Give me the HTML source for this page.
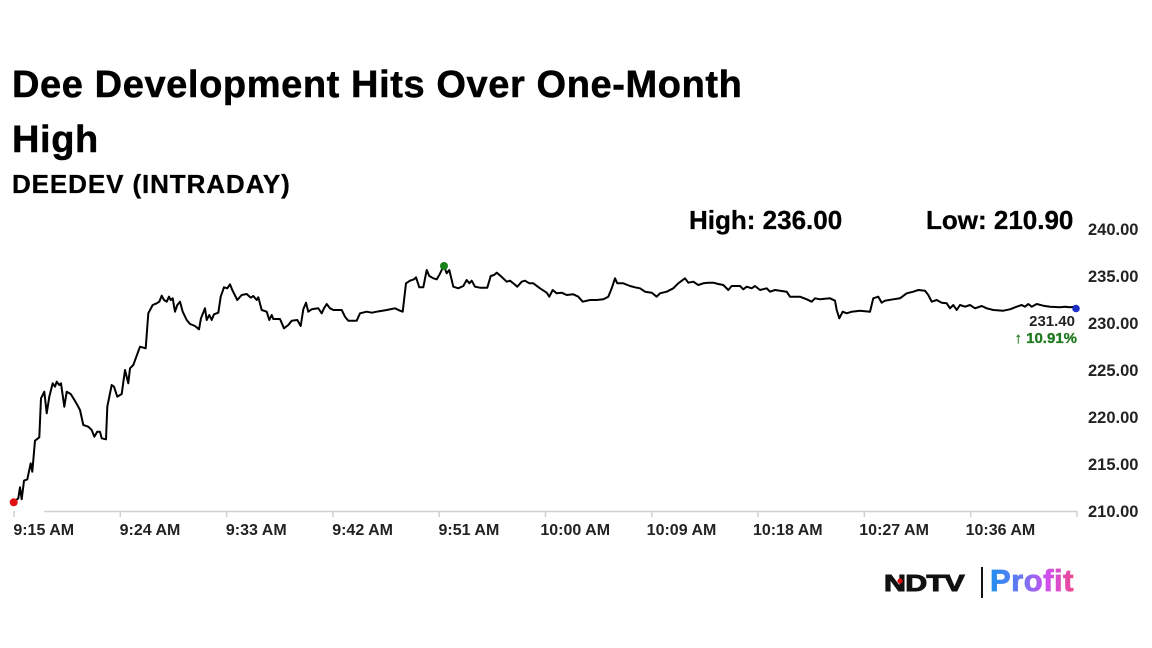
<!DOCTYPE html>
<html>
<head>
<meta charset="utf-8">
<style>
html,body{margin:0;padding:0;background:#fff;}
svg{display:block;}
text{font-family:"Liberation Sans",Arial,sans-serif;}
</style>
</head>
<body>
<svg width="1152" height="648" viewBox="0 0 1152 648" xmlns="http://www.w3.org/2000/svg">
<defs>
<linearGradient id="pg" x1="990" y1="0" x2="1078" y2="0" gradientUnits="userSpaceOnUse">
<stop offset="0" stop-color="#1e8ef0"/>
<stop offset="0.35" stop-color="#6a78f2"/>
<stop offset="0.65" stop-color="#d04ff0"/>
<stop offset="1" stop-color="#f0487e"/>
</linearGradient>
</defs>
<rect width="1152" height="648" fill="#fff"/>

<text x="12" y="97" font-size="38" font-weight="bold" letter-spacing="0.6" fill="#000" stroke="#000" stroke-width="0.5">Dee Development Hits Over One-Month</text>
<text x="12" y="152" font-size="38" font-weight="bold" letter-spacing="0.6" fill="#000" stroke="#000" stroke-width="0.5">High</text>
<text x="12" y="193" font-size="26" font-weight="bold" letter-spacing="0.9" fill="#000" stroke="#000" stroke-width="0.3">DEEDEV (INTRADAY)</text>

<text x="689" y="229" font-size="26" font-weight="bold" fill="#000" stroke="#000" stroke-width="0.3">High: 236.00</text>
<text x="926" y="229" font-size="26" font-weight="bold" fill="#000" stroke="#000" stroke-width="0.3">Low: 210.90</text>

<!-- y axis labels -->
<g font-size="16.5" font-weight="bold" fill="#222">
<text x="1088" y="235">240.00</text>
<text x="1088" y="282">235.00</text>
<text x="1088" y="329">230.00</text>
<text x="1088" y="376">225.00</text>
<text x="1088" y="423">220.00</text>
<text x="1088" y="470">215.00</text>
<text x="1088" y="517">210.00</text>
</g>

<!-- x axis -->
<line x1="44" y1="511.5" x2="1077" y2="511.5" stroke="#d0d0d0" stroke-width="1.5"/>
<g stroke="#d0d0d0" stroke-width="1.5">
<line x1="14" y1="511" x2="14" y2="517"/>
<line x1="120.3" y1="511" x2="120.3" y2="517"/>
<line x1="226.6" y1="511" x2="226.6" y2="517"/>
<line x1="332.9" y1="511" x2="332.9" y2="517"/>
<line x1="439.2" y1="511" x2="439.2" y2="517"/>
<line x1="545.5" y1="511" x2="545.5" y2="517"/>
<line x1="651.8" y1="511" x2="651.8" y2="517"/>
<line x1="758.1" y1="511" x2="758.1" y2="517"/>
<line x1="864.4" y1="511" x2="864.4" y2="517"/>
<line x1="970.7" y1="511" x2="970.7" y2="517"/>
<line x1="1077" y1="511" x2="1077" y2="517"/>
</g>
<g font-size="16" font-weight="bold" fill="#222" text-anchor="middle">
<text x="43.7" y="535">9:15 AM</text>
<text x="150" y="535">9:24 AM</text>
<text x="256.3" y="535">9:33 AM</text>
<text x="362.6" y="535">9:42 AM</text>
<text x="468.9" y="535">9:51 AM</text>
<text x="575.2" y="535">10:00 AM</text>
<text x="681.5" y="535">10:09 AM</text>
<text x="787.8" y="535">10:18 AM</text>
<text x="894.1" y="535">10:27 AM</text>
<text x="1000.4" y="535">10:36 AM</text>
</g>

<!-- price line -->
<polyline fill="none" stroke="#000" stroke-width="2" stroke-linejoin="round" points="
13.7,502.3 18.3,498.3 20,487.3 21.7,499.3 24,480.7 27.3,479.3 30.7,463.3 32.3,471.7 35,440.7 39.3,437.3 41,398.3 44.3,391.7 46.7,413.3 49.3,396.7 52.7,383.3 55,386.7 56.7,381.7 59.3,385 61,383.3 64.3,406.7 66.7,391.7 70.7,394 74,399.3 77.3,405 80,410 83.3,425 88.3,426.7 91.7,430 94.3,436.7 97.3,431.7 100,431.7 101.7,438.3 106,439.3 107.3,406.7 111.7,385 114,386.7 117.3,396.7 121.7,394 125,370 128.3,383.3 130,368.3 133.3,365 140,346.7 145.7,348.3 148.3,313.3 152.7,305 156.7,303.3 159.3,301.7 161.7,295.7 164,300 166.7,301.7 169,296.7 170.7,300 172.7,298.3 175,311.7 177.3,305 180,301.7 182.7,311.7 186.7,320 190,324 195,326 199,329.3 201,318.3 205,308.3 206.7,320 209.3,315 211.7,320 214,314.3 218.3,312.7 220.7,296.7 224,287.3 227.3,288.3 230,284.3 232.3,290 237.3,300 241.7,295 246.7,294 250.7,297.7 253.3,296 256.7,300 258.3,297.3 261.7,310 266.7,311.7 269.3,320 271.7,315 273.3,319 280,319
284,328.3 288.3,325 291.7,320.7 297.3,320 300.7,326 303.3,309.3 306,302.7 308.3,311.7 311.7,309.3 318.3,308.3 321.7,313.3 324,308.3 326.7,304 330,308.3 333.3,310 341.7,310 345,316.7 348.3,320.7 356.7,320.7 360,313.3 366.7,311.7 371.7,312.7 376.7,311.7 386.7,310 395,308.3 400,310.7 402.7,311.7 406,283.3 410,280.7 414,279.3 416,277.3 419.3,287.3 423.3,287.3 426.7,270 429.3,276 433.3,278.3 436.7,279.3 439.3,275 441.7,270 444,266 446.7,273.3 449.3,270 453.3,286.7 458.3,288.3 463.3,286 466.7,280 469.3,283.3 471.7,280.7 475,286.7 480,287.7 487.3,287.7 490.7,276 494,275 496.7,272.7 500.7,276 506.7,281.7 510,280.7 513.3,283.3 517.3,286.7 521.7,281.7 525,280.7 529.3,283.3 533.3,283.3 540,288.3 546.7,292.7 549.3,296.7 552.7,290 556.7,293.3 561.7,292.7 566.7,295 573.3,294.3 578.3,296.7 582.7,301.7 590,300 596.7,300 603.3,299.3 608.3,296.7 611.7,288.3 615,278.3 617.3,283.3 623.3,283.3 630,286 635,287.3 640,288.3 645,291.7 651.7,292.7 656.7,296.7
660,293.3 666.7,291.7 673.3,288.3 678.3,283.3 685,278.3 688.3,282.7 693.3,281.7 698.3,285 703.3,283.3 708.3,282.7 713.3,282.7 718.3,284 723.3,285 728.3,290 731.7,286 740,286 743.3,289.3 746.7,286.7 751.7,288.3 755,286 760,290 766.7,288.3 770,291.7 775,290 786.7,291.7 790,296.7 800,296.7 806.7,299.3 811.7,301.7 815,298.3 820,299.3 830,298.3 835,300.7 836.7,310 839.3,318.3 842.7,311.7 846.7,313.3 851.7,311.7 860,310.7 870,311.7 873.3,298.3 878.3,296.7 881.7,302.7 885,300.7 893.3,299.3 900,298.3 906.7,293.3 913.3,291.7 918.3,290 925,290.7 928.3,295 931.7,301.7 936.7,300 941.7,302.7 946.7,303.3 950,308.3 953.3,305 956.7,310 960,305 965,306.7 970,305 975,308.3 981.7,306 986.7,308.3 993.3,310 1003.3,310.7 1010,309.3 1016.7,306.7 1021.7,305 1025,306.7 1028.3,304 1031.7,306.7 1036.7,304 1043.3,305.7 1050,306.7 1060,307.3 1065,306.7 1070,307.3 1075,306.7 1077,309"/>

<circle cx="13.7" cy="502.3" r="4" fill="#e01010"/>
<circle cx="444" cy="266" r="4" fill="#1a801a"/>
<circle cx="1076" cy="308.5" r="3.8" fill="#1c2fc8"/>

<text x="1075" y="326" font-size="15" font-weight="bold" fill="#222" text-anchor="end">231.40</text>
<text x="1077" y="343" font-size="15" font-weight="bold" fill="#1f7a1f" text-anchor="end" stroke="#1f7a1f" stroke-width="0.3">↑ 10.91%</text>

<!-- logo -->
<text x="884" y="591" font-size="23" font-weight="900" fill="#111" stroke="#111" stroke-width="1" transform="translate(884 0) scale(1.32 1) translate(-884 0)" letter-spacing="-0.5">NDTV</text>
<circle cx="900" cy="581" r="2.6" fill="#e01010"/>
<rect x="981" y="567" width="2" height="31" fill="#111"/>
<text x="990" y="591" font-size="31" font-weight="bold" fill="url(#pg)" stroke="url(#pg)" stroke-width="0.8" letter-spacing="0.5">Profit</text>
</svg>
</body>
</html>
